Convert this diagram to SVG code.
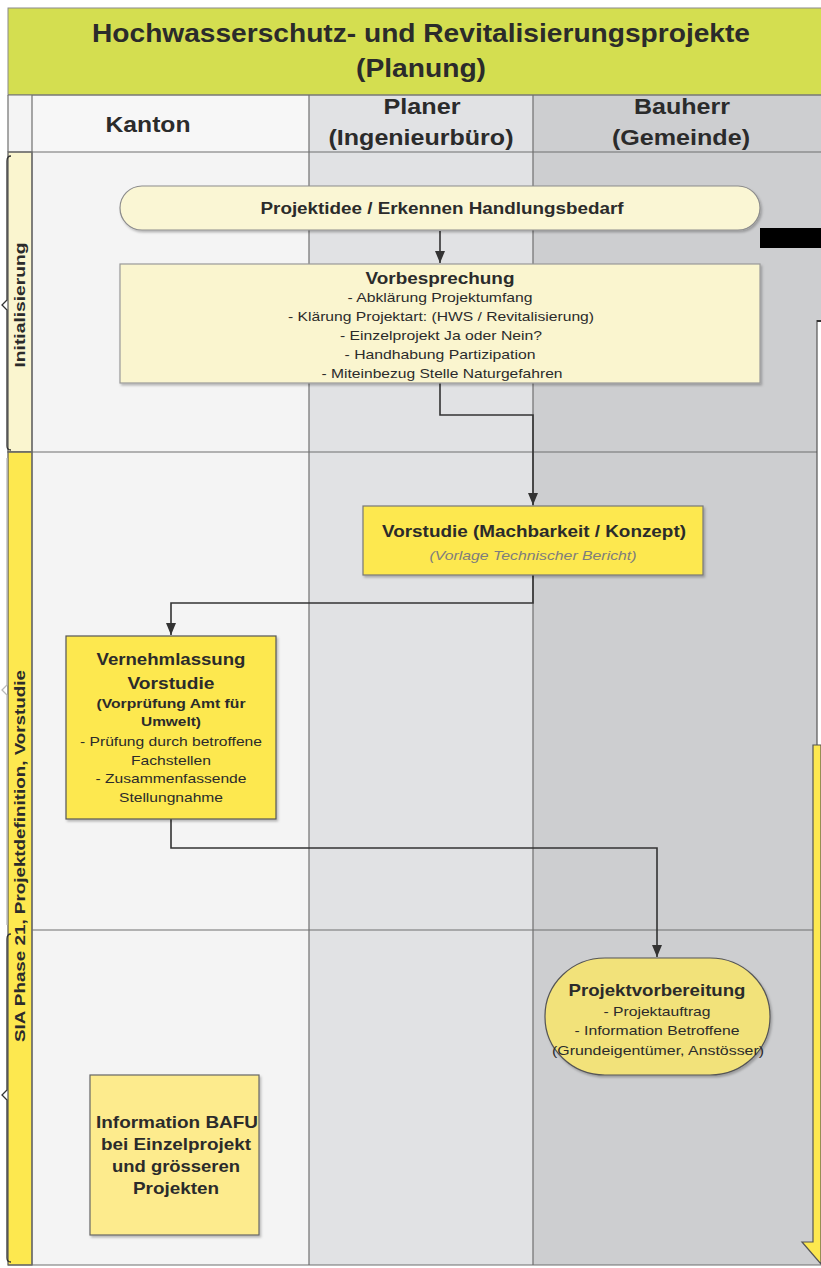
<svg xmlns="http://www.w3.org/2000/svg" width="821" height="1268" viewBox="0 0 821 1268">
<style>
.t{font-family:"Liberation Sans",Arial,sans-serif;fill:#2b2b2b;text-anchor:middle}
.b{font-weight:bold}
.hd{font-size:22px;font-weight:bold}
.s{font-size:13px}
.m{font-size:17px;font-weight:bold}
.grid{stroke:#6f6f6f;stroke-width:1.2;fill:none}
.conn{stroke:#333;stroke-width:1.6;fill:none;marker-end:url(#ah)}
</style>
<defs>
<marker id="ah" viewBox="0 0 12 10" refX="12" refY="5" markerWidth="12" markerHeight="10" markerUnits="userSpaceOnUse" orient="auto">
<path d="M0,0 L12,5 L0,10 Z" fill="#333"/>
</marker>
<filter id="sh" x="-5%" y="-5%" width="115%" height="120%">
<feDropShadow dx="1.5" dy="2" stdDeviation="1" flood-color="#000" flood-opacity="0.25"/>
</filter>
</defs>
<rect width="821" height="1268" fill="#ffffff"/>
<!-- lanes background -->
<rect x="32" y="95" width="277" height="1170" fill="#f4f4f4"/>
<rect x="309" y="95" width="224" height="1170" fill="#e1e2e4"/>
<rect x="533" y="95" width="288" height="1170" fill="#cdced0"/>
<rect x="32" y="95" width="277" height="57" fill="#f7f7f7"/>
<!-- title -->
<g id="title">
<rect x="8" y="8" width="820" height="87" fill="#d4de50" stroke="#8a8a8a" stroke-width="1"/>
<text class="t b" x="421" y="42" font-size="25" textLength="658" lengthAdjust="spacingAndGlyphs">Hochwasserschutz- und Revitalisierungsprojekte</text>
<text class="t b" x="421" y="77" font-size="25" textLength="130" lengthAdjust="spacingAndGlyphs">(Planung)</text>
</g>
<!-- header -->
<g id="headers">
<rect x="8" y="95" width="24" height="57" fill="#f4f4f4"/>
<text class="t hd" x="148" y="132" textLength="85" lengthAdjust="spacingAndGlyphs">Kanton</text>
<text class="t hd" x="422" y="114" textLength="77" lengthAdjust="spacingAndGlyphs">Planer</text>
<text class="t hd" x="421" y="145" textLength="185" lengthAdjust="spacingAndGlyphs">(Ingenieurbüro)</text>
<text class="t hd" x="682" y="114" textLength="96" lengthAdjust="spacingAndGlyphs">Bauherr</text>
<text class="t hd" x="681" y="145" textLength="138" lengthAdjust="spacingAndGlyphs">(Gemeinde)</text>
</g>
<!-- phase columns -->
<g id="phase-init">
<rect x="8" y="152" width="24" height="300" fill="#faf5cf" stroke="#555" stroke-width="1.2"/>
<text class="t b" font-size="15" transform="translate(25,305) rotate(-90)" textLength="125" lengthAdjust="spacingAndGlyphs">Initialisierung</text>
<path d="M11,156 Q7,156 7,161 L7,300 L2,305 L7,310 L7,446 Q7,450 11,450" fill="none" stroke="#333" stroke-width="1.3"/>
</g>
<g id="phase-sia">
<rect x="8" y="452" width="24" height="813" fill="#fde84f" stroke="#555" stroke-width="1.2"/>
<text class="t b" font-size="15" transform="translate(25,856) rotate(-90)" textLength="372" lengthAdjust="spacingAndGlyphs">SIA Phase 21, Projektdefinition, Vorstudie</text>
<path d="M7,458 L7,685 L2,690 L7,695 L7,925" fill="none" stroke="#b8b8b8" stroke-width="1.3"/>
<path d="M11,934 Q7,934 7,939 L7,1090 L2,1095 L7,1100 L7,1258 Q7,1262 11,1262" fill="none" stroke="#333" stroke-width="1.3"/>
</g>
<!-- grid lines -->
<g id="grid">
<line class="grid" x1="8" y1="95" x2="821" y2="95"/>
<line class="grid" x1="8" y1="152" x2="821" y2="152"/>
<line class="grid" x1="8" y1="452" x2="817" y2="452"/>
<line class="grid" x1="32" y1="930" x2="813" y2="930" stroke="#333"/>
<line class="grid" x1="32" y1="95" x2="32" y2="1265"/>
<line class="grid" x1="309" y1="95" x2="309" y2="1265"/>
<line class="grid" x1="533" y1="95" x2="533" y2="1265"/>
<line class="grid" x1="8" y1="95" x2="8" y2="152"/>
<line class="grid" x1="8" y1="1265" x2="821" y2="1265" stroke="#999"/>
</g>
<!-- right edge fragments -->
<g id="right-edge">
<rect x="760" y="228" width="61" height="20" fill="#000"/>
<rect x="817" y="320" width="4" height="425" fill="#ffffff"/>
<polygon points="813,745 821,745 821,1264 802,1242 813,1242" fill="#fde84f" stroke="#555" stroke-width="1.2"/>
<line x1="817" y1="320" x2="817" y2="745" stroke="#555" stroke-width="1.2"/>
<line x1="817" y1="321" x2="821" y2="321" stroke="#333" stroke-width="2"/>
</g>
<!-- connectors -->
<g id="connectors">
<path class="conn" d="M440,231 L440,263"/>
<path class="conn" d="M440,383 L440,415 L533,415 L533,505"/>
<path class="conn" d="M533,575 L533,603 L171,603 L171,635"/>
<path class="conn" d="M171,819 L171,848 L657,848 L657,957"/>
</g>
<!-- nodes -->
<g id="projektidee">
<rect x="120" y="186" width="640" height="44" rx="22" ry="22" fill="#faf6d4" stroke="#8c8c8c" stroke-width="1.2" filter="url(#sh)"/>
<text class="t b" x="442" y="214" font-size="16" textLength="363" lengthAdjust="spacingAndGlyphs">Projektidee / Erkennen Handlungsbedarf</text>
</g>
<g id="vorbesprechung">
<rect x="120" y="264" width="640" height="119" fill="#faf5cf" stroke="#999" stroke-width="1.2" filter="url(#sh)"/>
<text class="t m" x="440" y="284" textLength="149" lengthAdjust="spacingAndGlyphs">Vorbesprechung</text>
<text class="t s" x="440" y="302" textLength="185" lengthAdjust="spacingAndGlyphs">- Abklärung Projektumfang</text>
<text class="t s" x="441" y="321" textLength="306" lengthAdjust="spacingAndGlyphs">- Klärung Projektart: (HWS / Revitalisierung)</text>
<text class="t s" x="441" y="340" textLength="202" lengthAdjust="spacingAndGlyphs">- Einzelprojekt Ja oder Nein?</text>
<text class="t s" x="440" y="359" textLength="191" lengthAdjust="spacingAndGlyphs">- Handhabung Partizipation</text>
<text class="t s" x="442" y="378" textLength="241" lengthAdjust="spacingAndGlyphs">- Miteinbezug Stelle Naturgefahren</text>
</g>
<g id="vorstudie">
<rect x="363" y="506" width="340" height="69" fill="#fde84f" stroke="#777" stroke-width="1.2" filter="url(#sh)"/>
<text class="t m" x="534" y="537" textLength="304" lengthAdjust="spacingAndGlyphs">Vorstudie (Machbarkeit / Konzept)</text>
<text class="t s" x="533" y="560" font-style="italic" style="fill:#7d7d7d" textLength="207" lengthAdjust="spacingAndGlyphs">(Vorlage Technischer Bericht)</text>
</g>
<g id="vernehmlassung">
<rect x="66" y="636" width="210" height="183" fill="#fde84f" stroke="#555" stroke-width="1.2" filter="url(#sh)"/>
<text class="t m" x="171" y="665" textLength="149" lengthAdjust="spacingAndGlyphs">Vernehmlassung</text>
<text class="t m" x="171" y="689" textLength="87" lengthAdjust="spacingAndGlyphs">Vorstudie</text>
<text class="t s b" x="171" y="708" textLength="149" lengthAdjust="spacingAndGlyphs">(Vorprüfung Amt für</text>
<text class="t s b" x="171" y="726" textLength="60" lengthAdjust="spacingAndGlyphs">Umwelt)</text>
<text class="t s" x="171" y="746" textLength="182" lengthAdjust="spacingAndGlyphs">- Prüfung durch betroffene</text>
<text class="t s" x="171" y="765" textLength="80" lengthAdjust="spacingAndGlyphs">Fachstellen</text>
<text class="t s" x="171" y="783" textLength="151" lengthAdjust="spacingAndGlyphs">- Zusammenfassende</text>
<text class="t s" x="171" y="802" textLength="104" lengthAdjust="spacingAndGlyphs">Stellungnahme</text>
</g>
<g id="projektvorbereitung">
<rect x="545" y="958" width="225" height="117" rx="60" ry="58" fill="#f2e27a" stroke="#555" stroke-width="1.2" filter="url(#sh)"/>
<text class="t m" x="657" y="996" textLength="177" lengthAdjust="spacingAndGlyphs">Projektvorbereitung</text>
<text class="t s" x="657" y="1016" textLength="107" lengthAdjust="spacingAndGlyphs">- Projektauftrag</text>
<text class="t s" x="657" y="1035" textLength="165" lengthAdjust="spacingAndGlyphs">- Information Betroffene</text>
<text class="t s" x="658" y="1055" textLength="212" lengthAdjust="spacingAndGlyphs">(Grundeigentümer, Anstösser)</text>
</g>
<g id="info-bafu">
<rect x="90" y="1075" width="169" height="160" fill="#fdeb8d" stroke="#666" stroke-width="1.2" filter="url(#sh)"/>
<text class="t m" x="177" y="1128" textLength="162" lengthAdjust="spacingAndGlyphs">Information BAFU</text>
<text class="t m" x="176" y="1150" textLength="150" lengthAdjust="spacingAndGlyphs">bei Einzelprojekt</text>
<text class="t m" x="176" y="1172" textLength="128" lengthAdjust="spacingAndGlyphs">und grösseren</text>
<text class="t m" x="176" y="1194" textLength="86" lengthAdjust="spacingAndGlyphs">Projekten</text>
</g>
</svg>
